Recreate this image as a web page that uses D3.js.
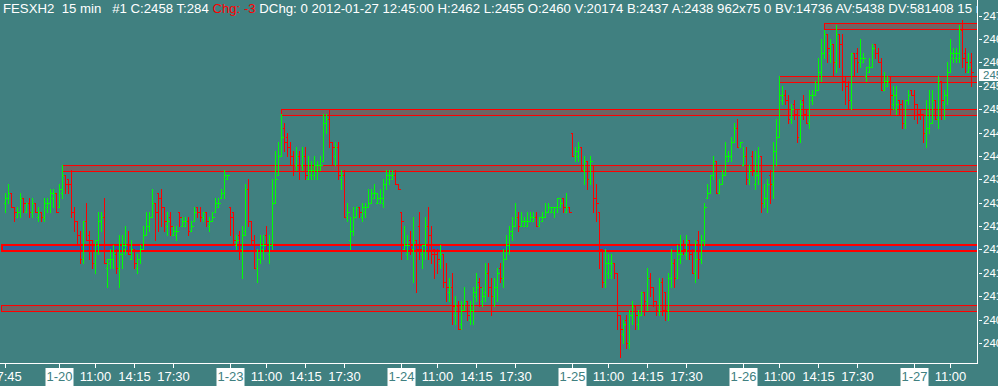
<!DOCTYPE html>
<html>
<head>
<meta charset="utf-8">
<script src="https://cdn.jsdelivr.net/npm/d3@7"></script>
<style>
  body { margin: 0; background: #408080; }
  svg { display: block; }
  text { font-family: "Liberation Sans", Arial, sans-serif; font-size: 13px; }
  text.header { font-size: 13.2px; }
  text.price { font-family: "Liberation Sans Narrow", "Arial Narrow", "Liberation Sans", sans-serif; font-size: 11.5px; }
</style>
</head>
<body>
<div id="Chart"></div>
<script>
// session days shown, first 15-min slot visible for each (slot 0 = 08:00, 57 slots per day)
var dayNames = ["1-19", "1-20", "1-23", "1-24", "1-25", "1-26", "1-27"];
var firstSlot = [39, 0, 0, 0, 0, 0, 0];

// OHLC bars [open, high, low, close], one array per day
var bars_0119 = [[2430,2432,2428,2431],[2431,2434,2430,2432],[2432,2432,2429,2429],[2429,2429,2426,2428],[2427,2429,2427,2428],[2428,2432,2427,2431],[2431,2431,2428,2430],[2428,2430,2428,2430],[2430,2431,2427,2428],[2428,2431,2427,2430],[2430,2430,2428,2428],[2427,2429,2426,2428],[2428,2428,2426,2427],[2427,2431,2426,2430],[2429,2431,2428,2430],[2430,2433,2428,2432],[2431,2433,2429,2432],[2432,2432,2428,2428]];
var bars_0120 = [[2429,2434,2429,2433],[2432,2438,2431,2436],[2436,2436,2432,2434],[2435,2435,2432,2434],[2434,2437,2427,2428],[2428,2429,2424,2426],[2426,2426,2421,2423],[2423,2424,2417,2418],[2418,2426,2417,2426],[2426,2430,2422,2422],[2423,2424,2418,2422],[2422,2422,2416,2417],[2417,2422,2415,2422],[2421,2428,2419,2426],[2426,2428,2424,2427],[2427,2431,2417,2417],[2416,2418,2412,2418],[2417,2420,2416,2418],[2418,2421,2416,2419],[2419,2420,2415,2416],[2416,2423,2412,2419],[2419,2423,2416,2421],[2420,2425,2419,2421],[2421,2424,2419,2419],[2418,2422,2418,2420],[2420,2420,2416,2417],[2416,2419,2415,2418],[2418,2421,2417,2420],[2420,2425,2420,2423],[2423,2428,2423,2425],[2425,2428,2424,2427],[2427,2433,2427,2430],[2430,2430,2422,2428],[2432,2432,2424,2431],[2431,2433,2425,2429],[2429,2429,2424,2426],[2425,2428,2423,2426],[2427,2428,2423,2425],[2423,2425,2423,2424],[2423,2425,2422,2424],[2428,2428,2425,2427],[2425,2427,2425,2426],[2425,2427,2425,2426],[2426,2427,2423,2424],[2424,2426,2424,2425],[2426,2429,2426,2428],[2429,2429,2427,2428],[2428,2429,2426,2427],[2427,2428,2426,2428],[2428,2428,2425,2426],[2425,2427,2424,2426],[2426,2428,2426,2427],[2428,2431,2428,2430],[2429,2431,2429,2430],[2431,2433,2431,2432],[2432,2437,2431,2436],[2435,2436,2435,2436]];
var bars_0123 = [[2429,2429,2423,2427],[2428,2428,2421,2422],[2421,2423,2420,2422],[2423,2424,2418,2420],[2420,2425,2414,2423],[2424,2434,2423,2433],[2433,2435,2425,2426],[2426,2426,2421,2422],[2422,2423,2416,2416],[2416,2420,2413,2418],[2418,2423,2417,2421],[2420,2423,2418,2421],[2423,2425,2420,2421],[2419,2423,2417,2421],[2421,2435,2420,2430],[2430,2441,2430,2435],[2436,2443,2436,2440],[2440,2449,2440,2444],[2446,2447,2441,2443],[2444,2445,2440,2442],[2442,2443,2438,2440],[2440,2441,2436,2438],[2438,2442,2437,2440],[2440,2441,2435,2438],[2438,2442,2437,2440],[2440,2442,2435,2436],[2435,2440,2435,2437],[2436,2439,2435,2437],[2436,2440,2435,2438],[2437,2439,2435,2438],[2437,2440,2437,2438],[2439,2449,2439,2447],[2447,2449,2445,2448],[2448,2450,2442,2443],[2443,2443,2438,2442],[2440,2443,2438,2442],[2442,2443,2435,2436],[2435,2437,2433,2436],[2436,2437,2427,2427],[2427,2430,2426,2428],[2422,2427,2420,2424],[2424,2429,2423,2427],[2427,2429,2427,2429],[2429,2429,2427,2428],[2427,2430,2426,2429],[2428,2430,2427,2429],[2429,2433,2429,2430],[2430,2433,2430,2432],[2431,2434,2431,2432],[2430,2432,2430,2431],[2430,2433,2430,2431],[2430,2435,2429,2434],[2434,2437,2433,2436],[2435,2437,2434,2436],[2435,2437,2435,2436],[2436,2437,2434,2434],[2434,2434,2433,2433]];
var bars_0124 = [[2428,2428,2418,2426],[2420,2425,2420,2421],[2419,2423,2418,2421],[2422,2424,2419,2420],[2420,2427,2413,2422],[2422,2422,2411,2420],[2425,2428,2418,2420],[2419,2421,2416,2421],[2421,2427,2418,2425],[2425,2429,2418,2423],[2423,2425,2417,2419],[2420,2420,2414,2419],[2419,2420,2415,2418],[2417,2421,2416,2419],[2419,2419,2412,2413],[2413,2417,2409,2412],[2411,2414,2409,2412],[2412,2415,2404,2408],[2406,2410,2404,2408],[2408,2409,2403,2403],[2404,2409,2403,2407],[2407,2412,2407,2409],[2409,2409,2405,2406],[2405,2409,2404,2407],[2407,2412,2404,2411],[2410,2415,2409,2412],[2413,2414,2408,2412],[2409,2412,2408,2410],[2411,2417,2409,2415],[2415,2417,2410,2412],[2412,2414,2406,2410],[2410,2414,2408,2412],[2412,2416,2409,2415],[2416,2417,2413,2414],[2414,2420,2412,2418],[2418,2423,2418,2421],[2421,2425,2419,2424],[2423,2427,2422,2425],[2425,2430,2425,2427],[2427,2428,2424,2425],[2425,2428,2425,2426],[2425,2427,2425,2426],[2425,2428,2425,2426],[2426,2428,2426,2427],[2426,2428,2426,2427],[2427,2428,2425,2425],[2425,2427,2425,2427],[2426,2428,2426,2427],[2427,2430,2427,2428],[2428,2430,2428,2429],[2428,2429,2428,2429],[2428,2429,2427,2429],[2429,2431,2428,2431],[2429,2431,2429,2430],[2431,2431,2428,2429],[2428,2432,2428,2429],[2429,2429,2428,2428]];
var bars_0125 = [[2445,2445,2440,2440],[2440,2442,2439,2441],[2440,2443,2439,2442],[2442,2442,2437,2437],[2437,2440,2434,2439],[2439,2439,2433,2435],[2435,2440,2434,2439],[2438,2438,2428,2431],[2431,2434,2426,2430],[2428,2428,2416,2420],[2420,2420,2412,2413],[2413,2420,2412,2417],[2415,2419,2414,2417],[2415,2419,2414,2417],[2417,2417,2414,2415],[2415,2415,2403,2406],[2406,2406,2397,2403],[2402,2405,2400,2404],[2405,2406,2399,2400],[2400,2407,2399,2406],[2406,2409,2404,2408],[2408,2408,2403,2406],[2404,2407,2403,2406],[2406,2411,2406,2411],[2411,2411,2406,2409],[2409,2416,2407,2414],[2414,2415,2410,2412],[2412,2412,2408,2409],[2409,2409,2406,2407],[2407,2414,2406,2413],[2413,2414,2406,2407],[2411,2411,2405,2407],[2407,2415,2405,2414],[2414,2420,2412,2417],[2417,2418,2412,2414],[2414,2421,2414,2419],[2418,2423,2417,2419],[2421,2422,2419,2420],[2419,2423,2418,2422],[2422,2422,2418,2419],[2419,2420,2415,2415],[2415,2422,2413,2418],[2422,2424,2414,2418],[2418,2423,2417,2422],[2422,2430,2421,2429],[2431,2434,2431,2432],[2432,2436,2432,2436],[2436,2440,2435,2439],[2439,2439,2432,2432],[2432,2435,2432,2434],[2434,2437,2434,2436],[2436,2443,2436,2440],[2439,2441,2439,2440],[2440,2444,2439,2443],[2443,2447,2443,2446],[2446,2448,2442,2442],[2442,2443,2442,2443]];
var bars_0126 = [[2438,2442,2438,2440],[2440,2442,2434,2435],[2435,2438,2434,2437],[2440,2441,2436,2437],[2434,2441,2433,2436],[2436,2442,2434,2440],[2440,2440,2428,2430],[2430,2434,2429,2431],[2431,2435,2428,2434],[2436,2437,2430,2434],[2434,2443,2431,2441],[2441,2448,2438,2444],[2444,2457,2444,2453],[2452,2455,2451,2453],[2453,2454,2451,2452],[2452,2453,2447,2448],[2448,2451,2447,2450],[2451,2452,2448,2449],[2449,2450,2443,2444],[2444,2452,2443,2451],[2452,2453,2448,2449],[2449,2450,2447,2447],[2447,2454,2446,2453],[2452,2454,2451,2453],[2453,2456,2453,2454],[2454,2461,2454,2458],[2458,2465,2456,2462],[2462,2467,2461,2466],[2466,2466,2460,2463],[2462,2465,2460,2464],[2464,2464,2457,2460],[2460,2468,2458,2466],[2466,2466,2459,2464],[2464,2466,2454,2456],[2456,2457,2451,2455],[2455,2456,2450,2452],[2452,2462,2450,2462],[2462,2462,2457,2461],[2462,2463,2458,2460],[2460,2465,2459,2461],[2460,2462,2460,2461],[2457,2459,2456,2459],[2458,2461,2458,2459],[2459,2464,2459,2463],[2464,2464,2461,2462],[2462,2463,2460,2460],[2460,2461,2454,2454],[2454,2458,2454,2456],[2455,2457,2455,2456],[2456,2457,2449,2453],[2451,2455,2450,2453],[2450,2455,2449,2451],[2452,2452,2449,2451],[2451,2452,2446,2447],[2447,2452,2446,2452],[2452,2454,2451,2453],[2454,2454,2453,2453]];
var bars_0127 = [[2453,2454,2448,2451],[2451,2451,2447,2449],[2450,2450,2448,2449],[2449,2449,2443,2445],[2445,2452,2442,2446],[2446,2454,2445,2447],[2447,2454,2447,2452],[2452,2452,2448,2448],[2448,2457,2446,2456],[2456,2456,2448,2452],[2451,2454,2448,2453],[2453,2460,2451,2458],[2458,2465,2458,2462],[2461,2463,2460,2462],[2461,2463,2460,2462],[2461,2468,2460,2467],[2467,2469,2459,2461],[2462,2463,2458,2460],[2458,2462,2458,2459],[2460,2462,2455,2458]];
var barsByDay = [bars_0119, bars_0120, bars_0123, bars_0124, bars_0125, bars_0126, bars_0127];

// price axis ticks
var priceTicks = [2400, 2405, 2410, 2415, 2420, 2425, 2430, 2435, 2440, 2445, 2450, 2455, 2460, 2465, 2470];
var lastPrice = 2458;

// time axis ticks [day index, slot, label, is date]
var timeTicks = [
  [0, 39, "17:45", false],
  [1, 0, "1-20", true], [1, 12, "11:00", false], [1, 25, "14:15", false], [1, 38, "17:30", false],
  [2, 0, "1-23", true], [2, 12, "11:00", false], [2, 25, "14:15", false], [2, 38, "17:30", false],
  [3, 0, "1-24", true], [3, 12, "11:00", false], [3, 25, "14:15", false], [3, 38, "17:30", false],
  [4, 0, "1-25", true], [4, 12, "11:00", false], [4, 25, "14:15", false], [4, 38, "17:30", false],
  [5, 0, "1-26", true], [5, 12, "11:00", false], [5, 25, "14:15", false], [5, 38, "17:30", false],
  [6, 0, "1-27", true], [6, 12, "11:00", false]
];

// price zones: start [day, slot] (null = before the window), low, high, style
var zoneStart = [[5, 27], [5, 12], [2, 17], [1, 1], null, null];
var zoneLow   = [2467.1, 2455.8, 2448.8, 2436.8, 2419.9, 2406.8];
var zoneHigh  = [2468.4, 2457.0, 2450.0, 2438.0, 2421.2, 2408.1];
var zoneKind  = ["grey", "grey", "grey", "grey", "blue", "grey"];

var header = [
  ["FESXH2", "#ffffff"], ["  15 min   #1 C:2458 T:284 ", "#ffffff"], ["Chg: -3", "#ff0000"],
  [" DChg: 0 2012-01-27 12:45:00 H:2462 L:2455 O:2460 V:20174 B:2437 A:2438 962x75 0 BV:14736 AV:5438 DV:581408 15 min", "#ffffff"]
];

var W = 998, H = 386;
var plotRight = 977, plotBottom = 363;
var bg = "#408080";
var slotsPerDay = 57;

function barIndex(day, slot) { return day * slotsPerDay + slot - firstSlot[0]; }

var data = [];
barsByDay.forEach(function(arr, d) {
  arr.forEach(function(b, i) {
    data.push({i: barIndex(d, firstSlot[d] + i), o: b[0], h: b[1], l: b[2], c: b[3]});
  });
});

var x = d3.scaleLinear().domain([0, data.length - 1]).range([5.3, 971.3]);
var y = d3.scaleLinear().domain([2400, 2465]).range([343, 39]);
function px(v) { return Math.round(v) + 0.5; }

var svg = d3.select("#Chart").append("svg")
  .attr("class", "chart")
  .attr("width", W).attr("height", H);

svg.append("rect").attr("width", W).attr("height", H).attr("fill", bg);

svg.append("clipPath").attr("id", "plotclip")
  .append("rect").attr("x", 0).attr("y", 0).attr("width", plotRight).attr("height", plotBottom);

var plot = svg.append("g").attr("clip-path", "url(#plotclip)");

// zones
var zones = zoneLow.map(function(lo, k) {
  return {x0: zoneStart[k] ? x(barIndex(zoneStart[k][0], zoneStart[k][1])) : 1, lo: lo, hi: zoneHigh[k], kind: zoneKind[k]};
});
plot.selectAll("rect.zone").data(zones).enter().append("rect")
  .attr("class", "zone")
  .attr("x", d => px(d.x0))
  .attr("y", d => px(y(d.hi)))
  .attr("width", d => plotRight + 5 - px(d.x0))
  .attr("height", d => Math.round(y(d.lo) - y(d.hi)))
  .attr("fill", d => d.kind == "blue" ? "#3060a0" : "#6e6464")
  .attr("stroke", "#ff0000")
  .attr("stroke-width", d => d.kind == "blue" ? 2 : 1)
  .attr("shape-rendering", "crispEdges");

// OHLC bars
plot.selectAll("path.bar").data(data).enter().append("path")
  .attr("class", "bar")
  .attr("fill", "none")
  .attr("shape-rendering", "crispEdges")
  .attr("stroke", d => d.c >= d.o ? "#00ff00" : "#ff0000")
  .attr("stroke-width", 1)
  .attr("d", function(d) {
    var cx = px(x(d.i));
    return "M" + cx + "," + Math.round(y(d.h)) + "V" + (Math.round(y(d.l)) + 1)
      + "M" + (cx - 2) + "," + px(y(d.o)) + "H" + cx
      + "M" + cx + "," + px(y(d.c)) + "H" + (cx + 2);
  });

// header
var headerText = svg.append("text")
  .attr("class", "header")
  .attr("x", 3).attr("y", 13)
  .attr("clip-path", "url(#plotclip)")
  .style("white-space", "pre");
header.forEach(function(h) {
  headerText.append("tspan").attr("fill", h[1]).text(h[0]);
});

// axes lines
svg.append("line").attr("x1", plotRight + 0.5).attr("x2", plotRight + 0.5)
  .attr("y1", 0).attr("y2", plotBottom + 1).attr("stroke", "#ffffff");
svg.append("line").attr("x1", 0).attr("x2", plotRight + 1)
  .attr("y1", plotBottom + 0.5).attr("y2", plotBottom + 0.5).attr("stroke", "#ffffff");

// price axis
var yAxis = svg.append("g");
priceTicks.forEach(function(v) {
  var yy = Math.round(y(v));
  yAxis.append("line").attr("x1", plotRight + 2).attr("x2", plotRight + 5)
    .attr("y1", yy + 0.5).attr("y2", yy + 0.5).attr("stroke", "#ffffff");
  yAxis.append("text").attr("class", "price").attr("x", plotRight + 6).attr("y", yy + 4)
    .attr("fill", "#ffffff").text(v);
});
var ly = Math.round(y(lastPrice));
yAxis.append("rect").attr("x", plotRight + 2).attr("y", ly - 3)
  .attr("width", 30).attr("height", 12).attr("fill", "#ffffff");
yAxis.append("text").attr("class", "price").attr("x", plotRight + 6).attr("y", ly + 7)
  .attr("fill", bg).text(lastPrice);

// time axis
var xAxis = svg.append("g");
timeTicks.forEach(function(t) {
  var xx = px(x(barIndex(t[0], t[1])));
  xAxis.append("line").attr("x1", xx).attr("x2", xx)
    .attr("y1", plotBottom).attr("y2", plotBottom + 5).attr("stroke", "#ffffff");
  if (t[3]) {
    xAxis.append("rect").attr("x", xx - 14).attr("y", plotBottom + 5)
      .attr("width", 28).attr("height", 18).attr("fill", "#ffffff");
  }
  xAxis.append("text").attr("x", xx).attr("y", plotBottom + 18)
    .attr("text-anchor", "middle")
    .attr("fill", t[3] ? bg : "#ffffff").text(t[2]);
});
</script>
</body>
</html>
